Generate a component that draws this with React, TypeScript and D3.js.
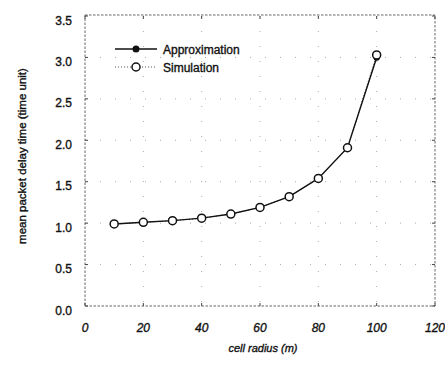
import React from "react";
import * as d3 from "d3";

const radii = [10, 20, 30, 40, 50, 60, 70, 80, 90, 100];
const approximation = [0.99, 1.01, 1.03, 1.06, 1.11, 1.19, 1.32, 1.54, 1.91, 3.0];
const simulation = [0.99, 1.01, 1.03, 1.06, 1.11, 1.19, 1.32, 1.54, 1.91, 3.03];
const xTicks = [0, 20, 40, 60, 80, 100, 120];
const yTicks = [0, 0.5, 1.0, 1.5, 2.0, 2.5, 3.0, 3.5];
const seriesNames = ["Approximation", "Simulation"];
const xTitle = "cell radius (m)";
const yTitle = "mean packet delay time (time unit)";

const W = 445;
const H = 365;
const L = 85, R = 435, T = 16, B = 306;

export default function App() {
  const x = d3.scaleLinear().domain([0, 120]).range([L, R]);
  const y = d3.scaleLinear().domain([0, 3.5]).range([B, T]);
  const line = d3.line<number>().x((_, i) => x(radii[i])).y((d) => y(d));
  const font = "'Liberation Sans', Arial, Helvetica, sans-serif";
  const txt = { fontFamily: font, fill: "#111", stroke: "#111", strokeWidth: 0.35 } as const;

  return (
    <svg width={W} height={H} style={{ position: "absolute", left: 0, top: 0, background: "#fff" }}>
      {/* sparse dotted grid */}
      {xTicks.slice(1, -1).map((t) => (
        <line key={"gx" + t} x1={x(t)} x2={x(t)} y1={T} y2={B} stroke="#aaa" strokeWidth={1} strokeDasharray="1,14" />
      ))}
      {yTicks.slice(1, -1).map((t) => (
        <line key={"gy" + t} x1={L} x2={R} y1={y(t)} y2={y(t)} stroke="#aaa" strokeWidth={1} strokeDasharray="1,14" />
      ))}
      {/* frame */}
      <rect x={L} y={T - 1} width={R - L} height={B - T + 1} fill="none" stroke="#666" strokeWidth={1} strokeDasharray="2.5,1.5" />
      {/* ticks */}
      {yTicks.map((t) => (
        <g key={"ty" + t}>
          <line x1={L} x2={L + 3} y1={y(t)} y2={y(t)} stroke="#444" />
          <line x1={R} x2={R - 3} y1={y(t)} y2={y(t)} stroke="#444" />
          <text x={72} y={y(t) + 8.5} textAnchor="end" fontSize={12} {...txt}>
            {t.toFixed(1)}
          </text>
        </g>
      ))}
      {xTicks.map((t) => (
        <g key={"tx" + t}>
          <line x1={x(t)} x2={x(t)} y1={B} y2={B - 3} stroke="#444" />
          <line x1={x(t)} x2={x(t)} y1={T} y2={T + 3} stroke="#444" />
          <text x={x(t)} y={332} textAnchor="middle" fontSize={12} fontStyle="italic" {...txt}>
            {t}
          </text>
        </g>
      ))}
      {/* axis titles */}
      <text x={263} y={352} textAnchor="middle" fontSize={11} fontStyle="italic" {...txt}>
        {xTitle}
      </text>
      <text transform={`translate(26,${156}) rotate(-90)`} textAnchor="middle" fontSize={11.5} {...txt}>
        {yTitle}
      </text>
      {/* series */}
      <path d={line(simulation) || ""} fill="none" stroke="#444" strokeWidth={1} strokeDasharray="1,2" />
      <path d={line(approximation) || ""} fill="none" stroke="#111" strokeWidth={1.4} />
      {approximation.map((v, i) => (
        <circle key={"a" + i} cx={x(radii[i])} cy={y(v)} r={3.2} fill="#111" />
      ))}
      {simulation.map((v, i) => (
        <circle key={"s" + i} cx={x(radii[i])} cy={y(v)} r={4} fill="#fff" stroke="#111" strokeWidth={1.5} />
      ))}
      {/* legend */}
      <line x1={115} x2={157} y1={49} y2={49} stroke="#111" strokeWidth={1.4} />
      <circle cx={136} cy={49} r={3.5} fill="#111" />
      <text x={163} y={53.5} fontSize={12} {...txt}>{seriesNames[0]}</text>
      <line x1={115} x2={157} y1={67} y2={67} stroke="#555" strokeWidth={1} strokeDasharray="1,2" />
      <circle cx={136} cy={67} r={4} fill="#fff" stroke="#111" strokeWidth={1.5} />
      <text x={163} y={71.5} fontSize={12} {...txt}>{seriesNames[1]}</text>
    </svg>
  );
}
